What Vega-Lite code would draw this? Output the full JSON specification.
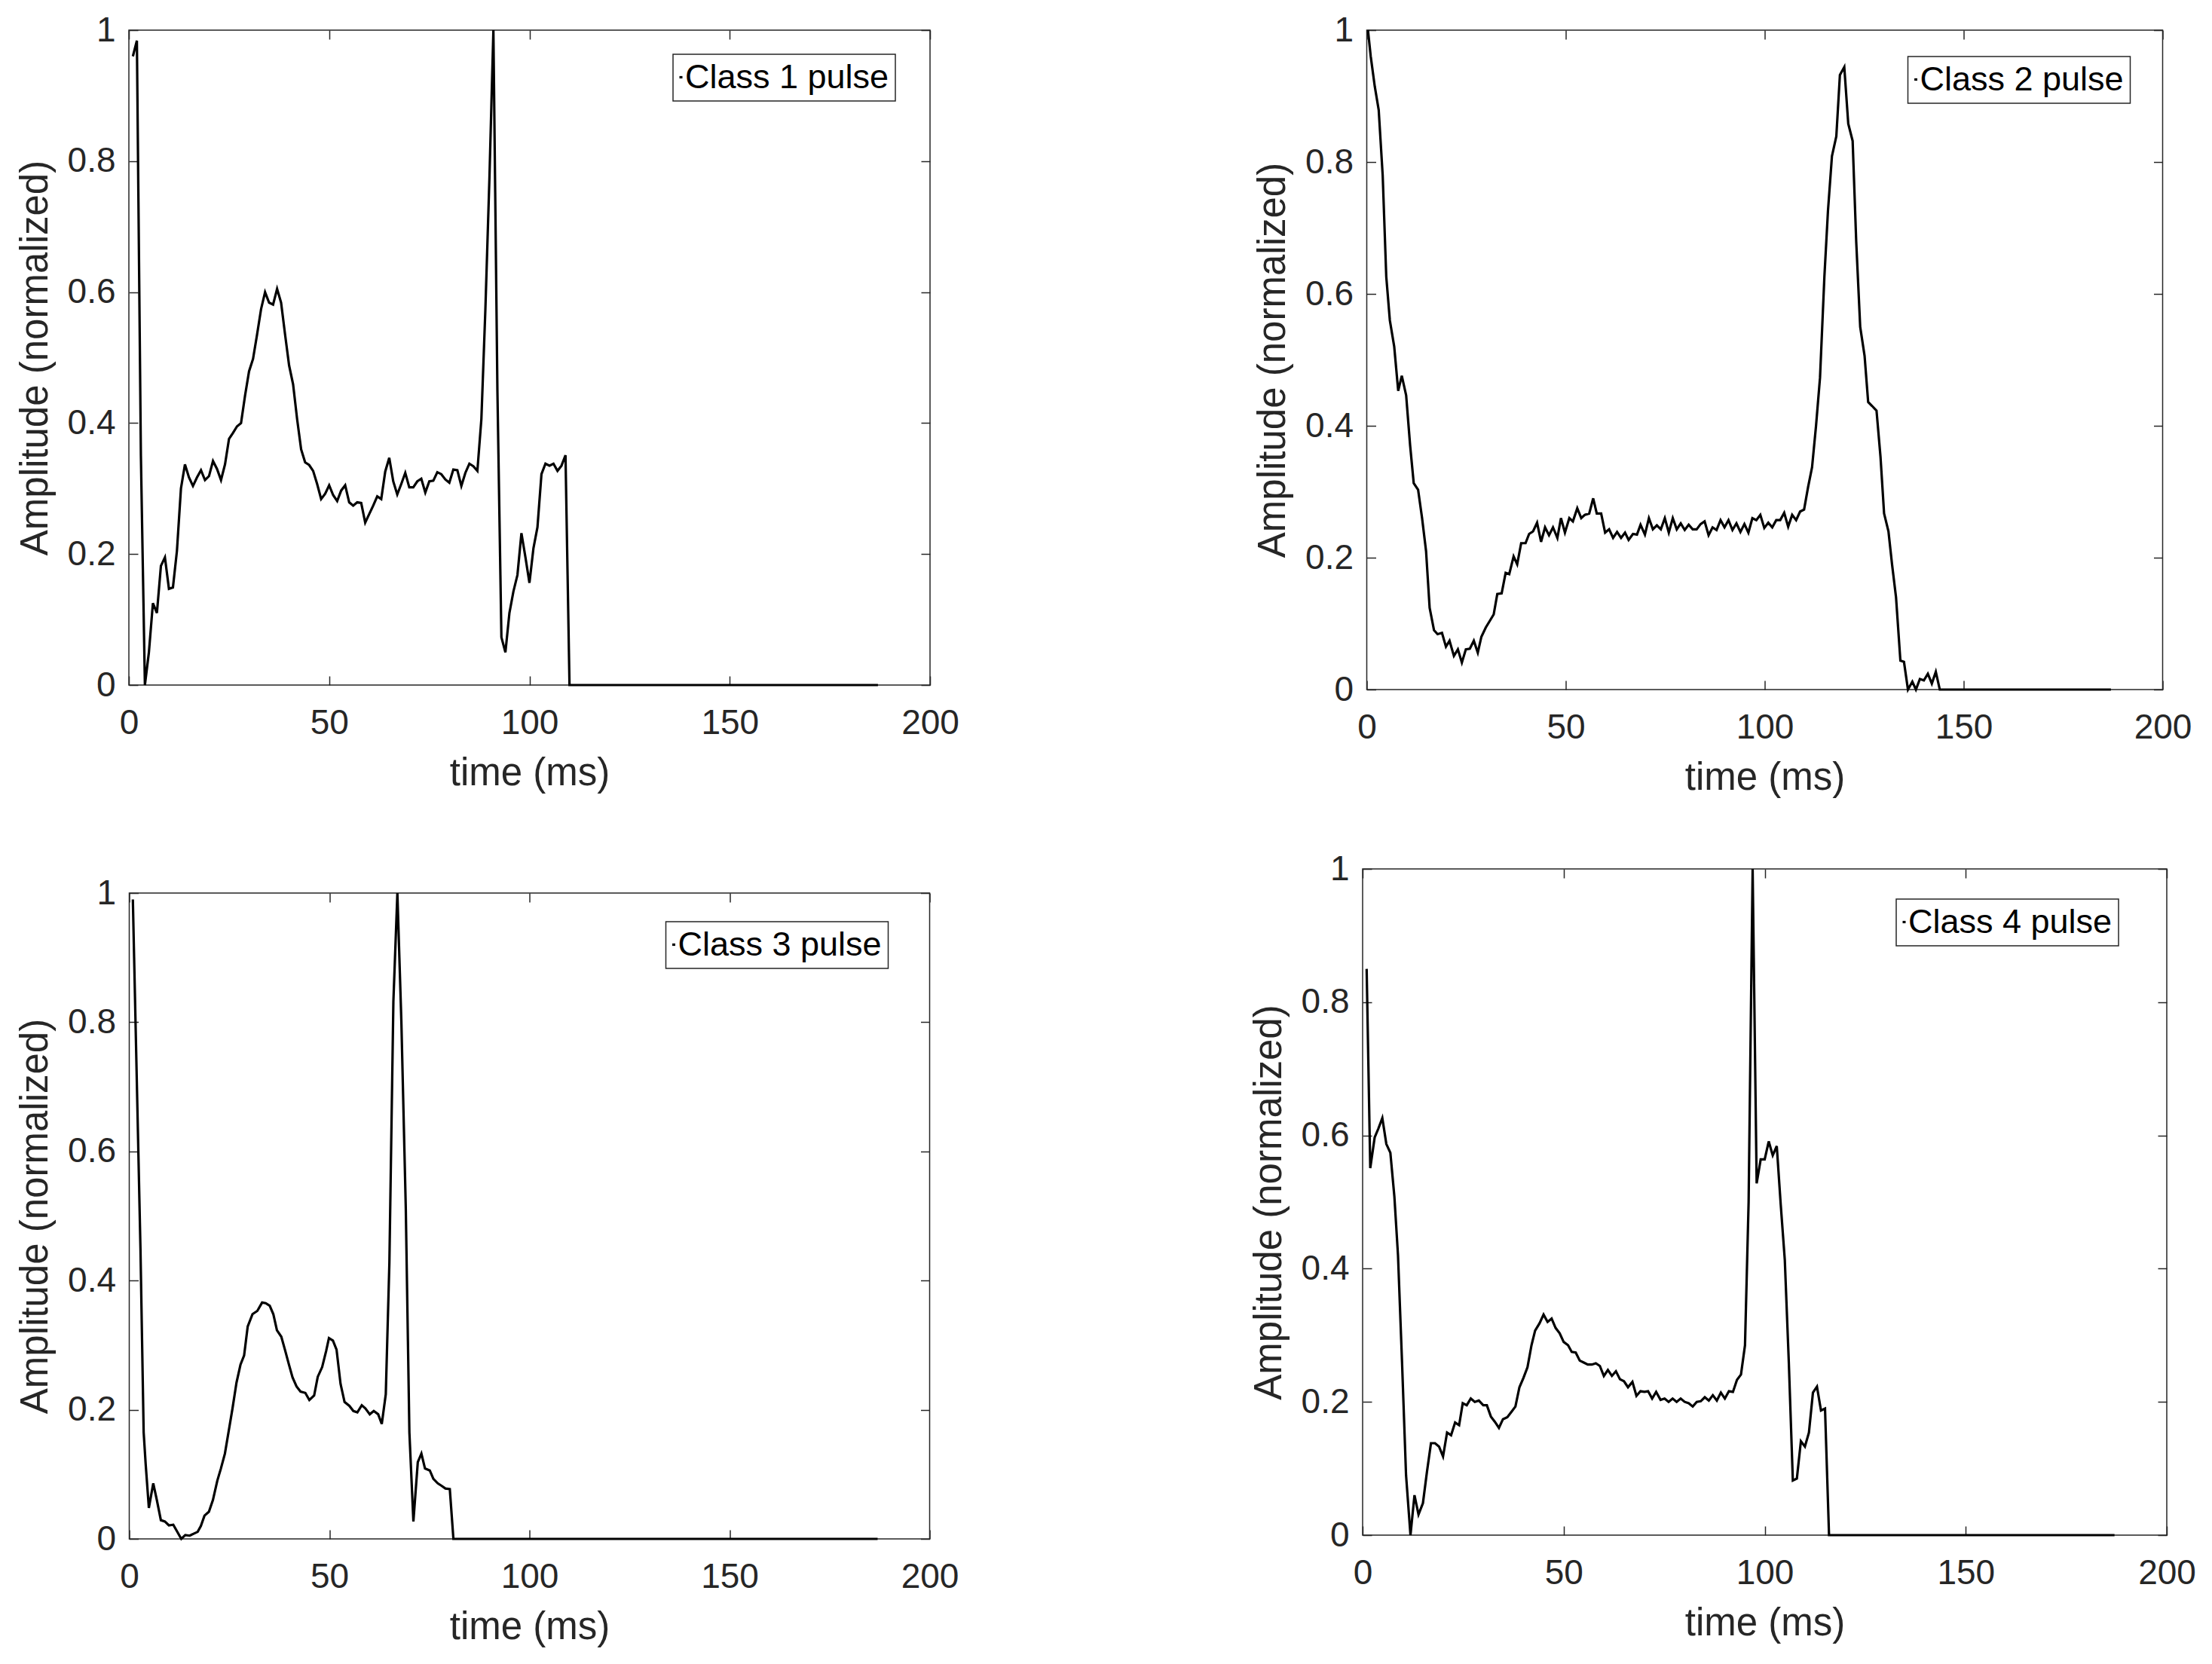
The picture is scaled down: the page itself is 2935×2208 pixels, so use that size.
{
  "$schema": "https://vega.github.io/schema/vega-lite/v6.json",
  "background": "white",
  "padding": {"left": 20, "top": 16, "right": 5, "bottom": 5},
  "datasets": {
    "p1": [
      {"t":1,"a":0.96},{"t":2,"a":0.984},{"t":3,"a":0.35},{"t":4,"a":0},{"t":5,"a":0.05},{"t":6,"a":0.125},{"t":7,"a":0.11},{"t":8,"a":0.182},{"t":9,"a":0.195},{"t":10,"a":0.147},
      {"t":11,"a":0.149},{"t":12,"a":0.205},{"t":13,"a":0.3},{"t":14,"a":0.337},{"t":15,"a":0.317},{"t":16,"a":0.304},{"t":17,"a":0.317},{"t":18,"a":0.328},{"t":19,"a":0.313},{"t":20,"a":0.319},
      {"t":21,"a":0.342},{"t":22,"a":0.33},{"t":23,"a":0.313},{"t":24,"a":0.337},{"t":25,"a":0.376},{"t":26,"a":0.385},{"t":27,"a":0.395},{"t":28,"a":0.4},{"t":29,"a":0.442},{"t":30,"a":0.479},
      {"t":31,"a":0.498},{"t":32,"a":0.535},{"t":33,"a":0.574},{"t":34,"a":0.6},{"t":35,"a":0.584},{"t":36,"a":0.581},{"t":37,"a":0.605},{"t":38,"a":0.584},{"t":39,"a":0.535},{"t":40,"a":0.488},
      {"t":41,"a":0.459},{"t":42,"a":0.406},{"t":43,"a":0.36},{"t":44,"a":0.34},{"t":45,"a":0.336},{"t":46,"a":0.327},{"t":47,"a":0.307},{"t":48,"a":0.284},{"t":49,"a":0.292},{"t":50,"a":0.305},
      {"t":51,"a":0.29},{"t":52,"a":0.281},{"t":53,"a":0.297},{"t":54,"a":0.305},{"t":55,"a":0.279},{"t":56,"a":0.274},{"t":57,"a":0.279},{"t":58,"a":0.278},{"t":59,"a":0.248},{"t":60,"a":0.261},
      {"t":61,"a":0.274},{"t":62,"a":0.288},{"t":63,"a":0.284},{"t":64,"a":0.326},{"t":65,"a":0.347},{"t":66,"a":0.311},{"t":67,"a":0.291},{"t":68,"a":0.307},{"t":69,"a":0.324},{"t":70,"a":0.302},
      {"t":71,"a":0.302},{"t":72,"a":0.311},{"t":73,"a":0.315},{"t":74,"a":0.294},{"t":75,"a":0.311},{"t":76,"a":0.312},{"t":77,"a":0.325},{"t":78,"a":0.322},{"t":79,"a":0.314},{"t":80,"a":0.309},
      {"t":81,"a":0.329},{"t":82,"a":0.328},{"t":83,"a":0.304},{"t":84,"a":0.324},{"t":85,"a":0.338},{"t":86,"a":0.334},{"t":87,"a":0.327},{"t":88,"a":0.406},{"t":89,"a":0.574},{"t":90,"a":0.772},
      {"t":91,"a":1},{"t":92,"a":0.45},{"t":93,"a":0.073},{"t":94,"a":0.05},{"t":95,"a":0.11},{"t":96,"a":0.143},{"t":97,"a":0.168},{"t":98,"a":0.232},{"t":99,"a":0.195},{"t":100,"a":0.156},
      {"t":101,"a":0.209},{"t":102,"a":0.241},{"t":103,"a":0.322},{"t":104,"a":0.338},{"t":105,"a":0.335},{"t":106,"a":0.338},{"t":107,"a":0.327},{"t":108,"a":0.335},{"t":109,"a":0.351},{"t":110,"a":0},
      {"t":187,"a":0}
    ],
    "p2": [
      {"t":0.3,"a":1},{"t":1,"a":0.96},{"t":2,"a":0.915},{"t":3,"a":0.879},{"t":4,"a":0.78},{"t":4.9,"a":0.626},{"t":5.8,"a":0.56},{"t":6.9,"a":0.52},{"t":7.9,"a":0.453},{"t":8.8,"a":0.476},
      {"t":9.9,"a":0.446},{"t":10.9,"a":0.37},{"t":11.8,"a":0.313},{"t":12.9,"a":0.303},{"t":13.9,"a":0.26},{"t":14.9,"a":0.21},{"t":15.8,"a":0.124},{"t":16.9,"a":0.09},{"t":17.8,"a":0.084},{"t":18.9,"a":0.086},
      {"t":19.9,"a":0.065},{"t":20.8,"a":0.074},{"t":21.9,"a":0.051},{"t":22.9,"a":0.061},{"t":23.9,"a":0.041},{"t":24.9,"a":0.061},{"t":25.9,"a":0.062},{"t":26.9,"a":0.074},{"t":27.9,"a":0.056},{"t":28.8,"a":0.08},
      {"t":29.9,"a":0.094},{"t":30.9,"a":0.104},{"t":31.9,"a":0.114},{"t":32.8,"a":0.145},{"t":33.9,"a":0.146},{"t":34.9,"a":0.177},{"t":35.8,"a":0.175},{"t":36.9,"a":0.202},{"t":37.8,"a":0.19},{"t":38.8,"a":0.222},
      {"t":39.9,"a":0.222},{"t":40.8,"a":0.236},{"t":41.8,"a":0.24},{"t":42.8,"a":0.253},{"t":43.8,"a":0.224},{"t":44.8,"a":0.246},{"t":45.8,"a":0.234},{"t":46.8,"a":0.246},{"t":47.9,"a":0.23},{"t":48.8,"a":0.26},
      {"t":49.8,"a":0.238},{"t":50.9,"a":0.26},{"t":51.8,"a":0.255},{"t":52.9,"a":0.275},{"t":53.9,"a":0.26},{"t":54.8,"a":0.265},{"t":55.9,"a":0.267},{"t":56.9,"a":0.29},{"t":57.8,"a":0.267},{"t":58.9,"a":0.267},
      {"t":59.9,"a":0.238},{"t":60.9,"a":0.243},{"t":61.9,"a":0.23},{"t":62.9,"a":0.239},{"t":63.9,"a":0.23},{"t":64.9,"a":0.238},{"t":65.8,"a":0.227},{"t":66.9,"a":0.236},{"t":67.9,"a":0.235},{"t":68.8,"a":0.25},
      {"t":69.9,"a":0.235},{"t":70.9,"a":0.26},{"t":71.9,"a":0.243},{"t":72.9,"a":0.249},{"t":73.9,"a":0.243},{"t":74.9,"a":0.26},{"t":75.9,"a":0.238},{"t":76.9,"a":0.26},{"t":77.9,"a":0.243},{"t":78.9,"a":0.252},
      {"t":79.9,"a":0.242},{"t":80.9,"a":0.25},{"t":81.9,"a":0.243},{"t":82.9,"a":0.243},{"t":83.9,"a":0.251},{"t":84.9,"a":0.255},{"t":85.9,"a":0.234},{"t":86.9,"a":0.246},{"t":87.9,"a":0.242},{"t":88.9,"a":0.257},
      {"t":89.9,"a":0.246},{"t":90.9,"a":0.257},{"t":91.9,"a":0.242},{"t":92.9,"a":0.252},{"t":93.9,"a":0.239},{"t":94.9,"a":0.251},{"t":95.9,"a":0.238},{"t":96.9,"a":0.26},{"t":97.9,"a":0.257},{"t":98.9,"a":0.265},
      {"t":99.9,"a":0.245},{"t":100.9,"a":0.253},{"t":101.9,"a":0.246},{"t":102.9,"a":0.257},{"t":103.9,"a":0.257},{"t":104.9,"a":0.268},{"t":105.9,"a":0.247},{"t":106.9,"a":0.265},{"t":107.9,"a":0.257},{"t":108.9,"a":0.27},
      {"t":109.9,"a":0.273},{"t":110.9,"a":0.307},{"t":111.9,"a":0.337},{"t":112.9,"a":0.4},{"t":113.9,"a":0.473},{"t":115,"a":0.626},{"t":115.9,"a":0.726},{"t":116.9,"a":0.809},{"t":118,"a":0.839},{"t":118.9,"a":0.932},
      {"t":120,"a":0.944},{"t":121,"a":0.858},{"t":122.1,"a":0.832},{"t":123,"a":0.679},{"t":124,"a":0.55},{"t":125.1,"a":0.506},{"t":126,"a":0.436},{"t":127,"a":0.43},{"t":128.1,"a":0.423},{"t":129.1,"a":0.353},
      {"t":130,"a":0.267},{"t":131.1,"a":0.24},{"t":132,"a":0.19},{"t":133,"a":0.14},{"t":134.1,"a":0.044},{"t":135,"a":0.042},{"t":136,"a":0},{"t":137.1,"a":0.012},{"t":138,"a":0},{"t":139,"a":0.016},
      {"t":140,"a":0.014},{"t":141,"a":0.024},{"t":142,"a":0.009},{"t":143,"a":0.027},{"t":144,"a":0},{"t":187,"a":0}
    ],
    "p3": [
      {"t":0.9,"a":0.99},{"t":2.8,"a":0.45},{"t":3.6,"a":0.165},{"t":4.1,"a":0.116},{"t":4.9,"a":0.048},{"t":6,"a":0.086},{"t":6.9,"a":0.06},{"t":7.9,"a":0.029},{"t":8.9,"a":0.027},{"t":9.9,"a":0.021},
      {"t":11,"a":0.022},{"t":12.1,"a":0.01},{"t":13,"a":0},{"t":14,"a":0.006},{"t":15.1,"a":0.005},{"t":16.1,"a":0.008},{"t":17.1,"a":0.011},{"t":17.9,"a":0.02},{"t":18.8,"a":0.036},{"t":19.9,"a":0.042},
      {"t":20.9,"a":0.06},{"t":22,"a":0.09},{"t":22.9,"a":0.109},{"t":23.9,"a":0.132},{"t":24.8,"a":0.165},{"t":25.8,"a":0.202},{"t":26.8,"a":0.242},{"t":27.8,"a":0.27},{"t":28.7,"a":0.284},{"t":29.6,"a":0.329},
      {"t":30.8,"a":0.348},{"t":32,"a":0.353},{"t":33.2,"a":0.366},{"t":34.1,"a":0.365},{"t":35.1,"a":0.361},{"t":36,"a":0.348},{"t":36.9,"a":0.323},{"t":38,"a":0.313},{"t":38.9,"a":0.293},{"t":39.9,"a":0.27},
      {"t":40.8,"a":0.25},{"t":41.8,"a":0.236},{"t":42.8,"a":0.228},{"t":44,"a":0.226},{"t":45,"a":0.215},{"t":46.2,"a":0.222},{"t":47.1,"a":0.251},{"t":48.2,"a":0.266},{"t":49.2,"a":0.291},{"t":49.9,"a":0.311},
      {"t":50.9,"a":0.307},{"t":51.8,"a":0.293},{"t":52.8,"a":0.24},{"t":53.8,"a":0.212},{"t":55,"a":0.206},{"t":56,"a":0.198},{"t":57,"a":0.196},{"t":58.1,"a":0.207},{"t":59,"a":0.202},{"t":60.1,"a":0.193},
      {"t":61.1,"a":0.198},{"t":62.2,"a":0.193},{"t":63.1,"a":0.178},{"t":64.1,"a":0.224},{"t":65,"a":0.427},{"t":66,"a":0.832},{"t":67,"a":1},{"t":68,"a":0.8},{"t":69.1,"a":0.512},{"t":70,"a":0.165},
      {"t":71,"a":0.027},{"t":72.1,"a":0.119},{"t":73,"a":0.132},{"t":73.9,"a":0.109},{"t":75.1,"a":0.106},{"t":76,"a":0.093},{"t":77.1,"a":0.086},{"t":78.1,"a":0.082},{"t":79,"a":0.078},{"t":80.1,"a":0.077},
      {"t":81,"a":0},{"t":187,"a":0}
    ],
    "p4": [
      {"t":1,"a":0.85},{"t":1.9,"a":0.551},{"t":3,"a":0.597},{"t":3.9,"a":0.61},{"t":4.9,"a":0.626},{"t":5.9,"a":0.587},{"t":6.9,"a":0.574},{"t":7.9,"a":0.508},{"t":8.8,"a":0.42},{"t":9.8,"a":0.26},
      {"t":10.8,"a":0.09},{"t":11.9,"a":0},{"t":12.9,"a":0.06},{"t":13.9,"a":0.031},{"t":15,"a":0.048},{"t":16,"a":0.095},{"t":17,"a":0.138},{"t":18,"a":0.138},{"t":19,"a":0.133},{"t":20,"a":0.118},
      {"t":21,"a":0.154},{"t":22,"a":0.15},{"t":23,"a":0.169},{"t":24,"a":0.165},{"t":24.9,"a":0.198},{"t":25.9,"a":0.195},{"t":26.9,"a":0.205},{"t":27.9,"a":0.2},{"t":28.9,"a":0.202},{"t":30,"a":0.195},
      {"t":30.9,"a":0.195},{"t":31.9,"a":0.178},{"t":32.9,"a":0.17},{"t":33.9,"a":0.161},{"t":34.9,"a":0.174},{"t":36,"a":0.177},{"t":37,"a":0.185},{"t":38,"a":0.193},{"t":39,"a":0.222},{"t":40,"a":0.236},
      {"t":41,"a":0.252},{"t":42,"a":0.285},{"t":42.9,"a":0.307},{"t":44,"a":0.318},{"t":45,"a":0.331},{"t":46,"a":0.32},{"t":47,"a":0.325},{"t":48,"a":0.311},{"t":49,"a":0.303},{"t":50,"a":0.29},
      {"t":51.1,"a":0.285},{"t":52,"a":0.275},{"t":53,"a":0.274},{"t":54,"a":0.262},{"t":55,"a":0.259},{"t":56,"a":0.256},{"t":57,"a":0.256},{"t":58,"a":0.258},{"t":59,"a":0.254},{"t":60,"a":0.239},
      {"t":61,"a":0.248},{"t":62,"a":0.239},{"t":63,"a":0.246},{"t":64,"a":0.234},{"t":65,"a":0.231},{"t":66,"a":0.222},{"t":67.1,"a":0.23},{"t":68.1,"a":0.209},{"t":69.1,"a":0.216},{"t":70.1,"a":0.215},
      {"t":71,"a":0.216},{"t":72,"a":0.205},{"t":73,"a":0.215},{"t":74.1,"a":0.203},{"t":75.1,"a":0.205},{"t":76.1,"a":0.2},{"t":77.1,"a":0.205},{"t":78.1,"a":0.2},{"t":79.1,"a":0.205},{"t":80.1,"a":0.2},
      {"t":81.1,"a":0.198},{"t":82.1,"a":0.193},{"t":83.1,"a":0.2},{"t":84.1,"a":0.201},{"t":85.1,"a":0.207},{"t":86.1,"a":0.202},{"t":87.1,"a":0.21},{"t":88.1,"a":0.202},{"t":89.1,"a":0.214},{"t":90.1,"a":0.205},
      {"t":91.1,"a":0.216},{"t":92.1,"a":0.215},{"t":93.1,"a":0.233},{"t":94.1,"a":0.241},{"t":95.1,"a":0.285},{"t":96,"a":0.5},{"t":97,"a":1},{"t":98,"a":0.528},{"t":99,"a":0.564},{"t":100,"a":0.564},
      {"t":101,"a":0.591},{"t":102,"a":0.57},{"t":103,"a":0.584},{"t":104,"a":0.495},{"t":105,"a":0.413},{"t":106,"a":0.259},{"t":107,"a":0.082},{"t":108,"a":0.085},{"t":109,"a":0.141},{"t":110,"a":0.133},
      {"t":111,"a":0.154},{"t":112,"a":0.214},{"t":113,"a":0.223},{"t":114,"a":0.187},{"t":115,"a":0.19},{"t":116,"a":0},{"t":187,"a":0}
    ]
  },
  "hconcat": [
    {
      "vconcat": [
        {
          "width": 1063, "height": 869,
          "data": {"name": "p1"},
          "layer": [
            {"mark": "line", "encoding": {
              "x": {"field": "t", "type": "quantitative", "scale": {"domain": [0, 200], "nice": false}, "axis": {"values": [0, 50, 100, 150, 200], "title": "time (ms)", "labelFlush": false}},
              "y": {"field": "a", "type": "quantitative", "scale": {"domain": [0, 1], "nice": false}, "axis": {"values": [0, 0.2, 0.4, 0.6, 0.8, 1], "format": "~g", "title": "Amplitude (normalized)"}},
              "color": {"datum": "Class 1 pulse", "type": "nominal", "scale": {"range": ["black"]}, "legend": {"legendX": 722, "legendY": 32}}
            }},
            {"mark": {"type": "line", "opacity": 0}, "encoding": {
              "x": {"field": "t", "type": "quantitative", "axis": {"orient": "top", "values": [0, 50, 100, 150, 200], "labels": false, "title": null}},
              "y": {"field": "a", "type": "quantitative", "axis": {"orient": "right", "values": [0, 0.2, 0.4, 0.6, 0.8, 1], "labels": false, "title": null}}
            }}
          ],
          "resolve": {"axis": {"x": "independent", "y": "independent"}}
        },
        {
          "width": 1062, "height": 857,
          "data": {"name": "p3"},
          "layer": [
            {"mark": "line", "encoding": {
              "x": {"field": "t", "type": "quantitative", "scale": {"domain": [0, 200], "nice": false}, "axis": {"values": [0, 50, 100, 150, 200], "title": "time (ms)", "labelFlush": false}},
              "y": {"field": "a", "type": "quantitative", "scale": {"domain": [0, 1], "nice": false}, "axis": {"values": [0, 0.2, 0.4, 0.6, 0.8, 1], "format": "~g", "title": "Amplitude (normalized)"}},
              "color": {"datum": "Class 3 pulse", "type": "nominal", "scale": {"range": ["black"]}, "legend": {"legendX": 712, "legendY": 38}}
            }},
            {"mark": {"type": "line", "opacity": 0}, "encoding": {
              "x": {"field": "t", "type": "quantitative", "axis": {"orient": "top", "values": [0, 50, 100, 150, 200], "labels": false, "title": null}},
              "y": {"field": "a", "type": "quantitative", "axis": {"orient": "right", "values": [0, 0.2, 0.4, 0.6, 0.8, 1], "labels": false, "title": null}}
            }}
          ],
          "resolve": {"axis": {"x": "independent", "y": "independent"}}
        }
      ],
      "spacing": 276,
      "bounds": "flush",
      "center": true,
      "resolve": {"scale": {"color": "independent"}, "legend": {"color": "independent"}}
    },
    {
      "vconcat": [
        {
          "width": 1056, "height": 875,
          "data": {"name": "p2"},
          "layer": [
            {"mark": "line", "encoding": {
              "x": {"field": "t", "type": "quantitative", "scale": {"domain": [0, 200], "nice": false}, "axis": {"values": [0, 50, 100, 150, 200], "title": "time (ms)", "labelFlush": false}},
              "y": {"field": "a", "type": "quantitative", "scale": {"domain": [0, 1], "nice": false}, "axis": {"values": [0, 0.2, 0.4, 0.6, 0.8, 1], "format": "~g", "title": "Amplitude (normalized)"}},
              "color": {"datum": "Class 2 pulse", "type": "nominal", "scale": {"range": ["black"]}, "legend": {"legendX": 718, "legendY": 35}}
            }},
            {"mark": {"type": "line", "opacity": 0}, "encoding": {
              "x": {"field": "t", "type": "quantitative", "axis": {"orient": "top", "values": [0, 50, 100, 150, 200], "labels": false, "title": null}},
              "y": {"field": "a", "type": "quantitative", "axis": {"orient": "right", "values": [0, 0.2, 0.4, 0.6, 0.8, 1], "labels": false, "title": null}}
            }}
          ],
          "resolve": {"axis": {"x": "independent", "y": "independent"}}
        },
        {
          "width": 1067, "height": 884,
          "data": {"name": "p4"},
          "layer": [
            {"mark": "line", "encoding": {
              "x": {"field": "t", "type": "quantitative", "scale": {"domain": [0, 200], "nice": false}, "axis": {"values": [0, 50, 100, 150, 200], "title": "time (ms)", "labelFlush": false}},
              "y": {"field": "a", "type": "quantitative", "scale": {"domain": [0, 1], "nice": false}, "axis": {"values": [0, 0.2, 0.4, 0.6, 0.8, 1], "format": "~g", "title": "Amplitude (normalized)"}},
              "color": {"datum": "Class 4 pulse", "type": "nominal", "scale": {"range": ["black"]}, "legend": {"legendX": 708, "legendY": 40}}
            }},
            {"mark": {"type": "line", "opacity": 0}, "encoding": {
              "x": {"field": "t", "type": "quantitative", "axis": {"orient": "top", "values": [0, 50, 100, 150, 200], "labels": false, "title": null}},
              "y": {"field": "a", "type": "quantitative", "axis": {"orient": "right", "values": [0, 0.2, 0.4, 0.6, 0.8, 1], "labels": false, "title": null}}
            }}
          ],
          "resolve": {"axis": {"x": "independent", "y": "independent"}}
        }
      ],
      "spacing": 238,
      "bounds": "flush",
      "center": true,
      "resolve": {"scale": {"color": "independent"}, "legend": {"color": "independent"}}
    }
  ],
  "spacing": 1637,
  "bounds": "flush",
  "resolve": {"scale": {"color": "independent"}, "legend": {"color": "independent"}},
  "config": {
    "font": "Liberation Sans",
    "view": {"stroke": "#262626", "strokeWidth": 1.5},
    "line": {"color": "black", "strokeWidth": 3.2, "clip": true},
    "axis": {
      "domain": false,
      "grid": false,
      "labelFont": "Liberation Sans",
      "labelFontSize": 46,
      "labelColor": "#262626",
      "titleFont": "Liberation Sans",
      "titleFontSize": 51,
      "titleFontWeight": "normal",
      "titleColor": "#262626",
      "tickColor": "#262626",
      "tickWidth": 1.5,
      "tickSize": -12
    },
    "axisX": {"labelPadding": 40, "titlePadding": 19},
    "axisY": {"labelPadding": 30, "titlePadding": 16},
    "legend": {
      "orient": "none",
      "title": null,
      "labelFont": "Liberation Sans",
      "labelFontSize": 45,
      "labelColor": "black",
      "labelLimit": 0,
      "strokeColor": "#262626",
      "strokeWidth": 1.5,
      "fillColor": "white",
      "padding": 8,
      "symbolType": "stroke",
      "symbolSize": 16,
      "symbolStrokeWidth": 1.5,
      "symbolOffset": -20,
      "labelOffset": -17
    }
  }
}
